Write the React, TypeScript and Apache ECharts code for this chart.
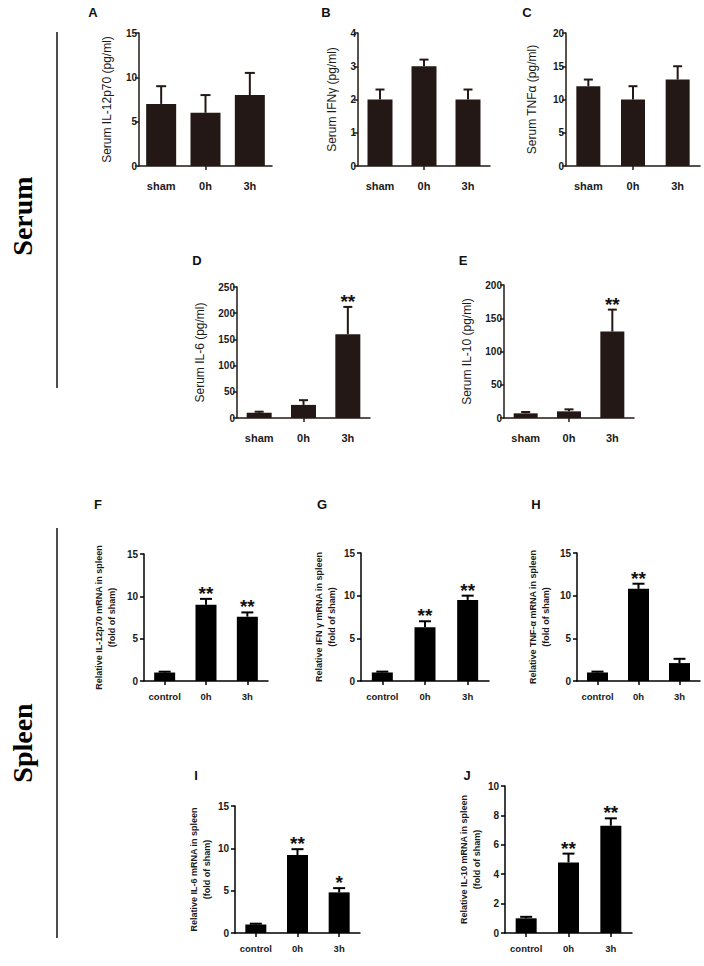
import React, { useEffect, useRef } from "react";
import * as echarts from "echarts";

// ---------- data ----------
const serumCategories = ["sham", "0h", "3h"];
const spleenCategories = ["control", "0h", "3h"];

const serumIL12Mean = [7, 6, 8];
const serumIL12Sem = [2, 2, 2.5];
const serumIFNgMean = [2, 3, 2];
const serumIFNgSem = [0.3, 0.2, 0.3];
const serumTNFaMean = [12, 10, 13];
const serumTNFaSem = [1, 2, 2];
const serumIL6Mean = [10, 25, 160];
const serumIL6Sem = [2, 9, 52];
const serumIL6Stars = ["", "", "**"];
const serumIL10Mean = [7, 10, 130];
const serumIL10Sem = [2, 3, 33];
const serumIL10Stars = ["", "", "**"];

const spleenIL12Mean = [1, 9.0, 7.6];
const spleenIL12Sem = [0.1, 0.7, 0.5];
const spleenIL12Stars = ["", "**", "**"];
const spleenIFNgMean = [1, 6.3, 9.5];
const spleenIFNgSem = [0.1, 0.7, 0.5];
const spleenIFNgStars = ["", "**", "**"];
const spleenTNFaMean = [1, 10.8, 2.1];
const spleenTNFaSem = [0.1, 0.6, 0.5];
const spleenTNFaStars = ["", "**", ""];
const spleenIL6Mean = [1, 9.2, 4.8];
const spleenIL6Sem = [0.1, 0.7, 0.5];
const spleenIL6Stars = ["", "**", "*"];
const spleenIL10Mean = [1, 4.8, 7.3];
const spleenIL10Sem = [0.1, 0.6, 0.5];
const spleenIL10Stars = ["", "**", "**"];

const FONT = "'Liberation Sans', Arial, Helvetica, sans-serif";
const SERIF = "'Liberation Serif', 'Times New Roman', serif";
const SERUM_COLOR = "#231815";
const SPLEEN_COLOR = "#000000";

type Panel = {
  letter: string;
  lx: number;
  ly: number;
  cats: string[];
  mean: number[];
  sem: number[];
  stars: string[];
  title: string;
  serum: boolean;
  left: number;
  top: number;
  width: number;
  height: number;
  max: number;
  interval: number;
  gap: number;
  barW: number;
  capW: number;
};

const none = ["", "", ""];

const panels: Panel[] = [
  { letter: "A", lx: 93, ly: 12, cats: serumCategories, mean: serumIL12Mean, sem: serumIL12Sem, stars: none, title: "Serum IL-12p70 (pg/ml)", serum: true, left: 139, top: 33, width: 133, height: 133, max: 15, interval: 5, gap: 26, barW: 30, capW: 10 },
  { letter: "B", lx: 326, ly: 12, cats: serumCategories, mean: serumIFNgMean, sem: serumIFNgSem, stars: none, title: "Serum IFNγ (pg/ml)", serum: true, left: 358, top: 33, width: 132, height: 133, max: 4, interval: 1, gap: 20, barW: 25, capW: 9 },
  { letter: "C", lx: 527, ly: 12, cats: serumCategories, mean: serumTNFaMean, sem: serumTNFaSem, stars: none, title: "Serum TNFα (pg/ml)", serum: true, left: 566, top: 33, width: 134, height: 133, max: 20, interval: 5, gap: 28, barW: 24, capW: 9 },
  { letter: "D", lx: 197, ly: 260, cats: serumCategories, mean: serumIL6Mean, sem: serumIL6Sem, stars: serumIL6Stars, title: "Serum IL-6 (pg/ml)", serum: true, left: 237, top: 287, width: 133, height: 131, max: 250, interval: 50, gap: 31, barW: 25, capW: 9 },
  { letter: "E", lx: 463, ly: 260, cats: serumCategories, mean: serumIL10Mean, sem: serumIL10Sem, stars: serumIL10Stars, title: "Serum IL-10 (pg/ml)", serum: true, left: 504, top: 285, width: 130, height: 133, max: 200, interval: 50, gap: 31, barW: 24, capW: 9 },
  { letter: "F", lx: 98, ly: 504, cats: spleenCategories, mean: spleenIL12Mean, sem: spleenIL12Sem, stars: spleenIL12Stars, title: "Relative IL-12p70 mRNA in spleen\n(fold of sham)", serum: false, left: 144, top: 554, width: 124, height: 127, max: 15, interval: 5, gap: 26, barW: 21, capW: 12 },
  { letter: "G", lx: 322, ly: 504, cats: spleenCategories, mean: spleenIFNgMean, sem: spleenIFNgSem, stars: spleenIFNgStars, title: "Relative IFN γ mRNA in spleen\n(fold of sham)", serum: false, left: 361, top: 553, width: 128, height: 128, max: 15, interval: 5, gap: 23, barW: 21, capW: 12 },
  { letter: "H", lx: 536, ly: 504, cats: spleenCategories, mean: spleenTNFaMean, sem: spleenTNFaSem, stars: spleenTNFaStars, title: "Relative TNF-α mRNA in spleen\n(fold of sham)", serum: false, left: 577, top: 553, width: 123, height: 128, max: 15, interval: 5, gap: 25, barW: 21, capW: 12 },
  { letter: "I", lx: 196, ly: 775, cats: spleenCategories, mean: spleenIL6Mean, sem: spleenIL6Sem, stars: spleenIL6Stars, title: "Relative IL-6 mRNA in spleen\n(fold of sham)", serum: false, left: 235, top: 806, width: 125, height: 127, max: 15, interval: 5, gap: 20, barW: 21, capW: 12 },
  { letter: "J", lx: 467, ly: 775, cats: spleenCategories, mean: spleenIL10Mean, sem: spleenIL10Sem, stars: spleenIL10Stars, title: "Relative IL-10 mRNA in spleen\n(fold of sham)", serum: false, left: 505, top: 786, width: 127, height: 147, max: 10, interval: 2, gap: 19, barW: 21, capW: 12 },
];

function buildOption() {
  const grid: any[] = [];
  const xAxis: any[] = [];
  const yAxis: any[] = [];
  const series: any[] = [];
  const graphic: any[] = [];

  panels.forEach((p, k) => {
    const color = p.serum ? SERUM_COLOR : SPLEEN_COLOR;
    grid.push({ left: p.left, top: p.top, width: p.width, height: p.height, containLabel: false });
    xAxis.push({
      type: "category",
      gridIndex: k,
      data: p.cats,
      axisLine: { show: true, lineStyle: { color, width: 1.5 } },
      axisTick: {
        show: true,
        alignWithLabel: true,
        length: 4,
        interval: p.serum ? (i: number) => i === 1 : 0,
        lineStyle: { color, width: 1.5 },
      },
      axisLabel: {
        interval: 0,
        color: "#1a1a1a",
        fontFamily: FONT,
        fontWeight: "bold",
        fontSize: p.serum ? 11 : 9.5,
        margin: p.serum ? 14 : 10,
      },
      splitLine: { show: false },
    });
    yAxis.push({
      type: "value",
      gridIndex: k,
      min: 0,
      max: p.max,
      interval: p.interval,
      axisLine: { show: true, lineStyle: { color, width: 1.5 } },
      axisTick: { show: true, length: 4, lineStyle: { color, width: 1.5 } },
      splitLine: { show: false },
      axisLabel: {
        color: "#1a1a1a",
        fontFamily: FONT,
        fontWeight: "bold",
        fontSize: 10,
        margin: p.serum ? 2 : 6,
      },
      name: p.title,
      nameLocation: "middle",
      nameGap: p.gap,
      nameTextStyle: {
        color: "#1a1a1a",
        fontFamily: FONT,
        fontWeight: p.serum ? "normal" : "bold",
        fontSize: p.serum ? 12 : 9,
        lineHeight: 13,
        align: "center",
      },
    });
    series.push({
      type: "bar",
      xAxisIndex: k,
      yAxisIndex: k,
      data: p.mean,
      barWidth: p.barW,
      itemStyle: { color },
      silent: true,
    });
    const stars = p.stars;
    const capW = p.capW;
    series.push({
      type: "custom",
      xAxisIndex: k,
      yAxisIndex: k,
      z: 5,
      encode: { x: 0, y: [1, 2] },
      data: p.mean.map((m, i) => [i, m, m + p.sem[i]]),
      renderItem: (params: any, api: any) => {
        const i = api.value(0);
        const base = api.coord([i, api.value(1)]);
        const top = api.coord([i, api.value(2)]);
        const children: any[] = [
          { type: "line", shape: { x1: base[0], y1: base[1], x2: top[0], y2: top[1] }, style: { stroke: color, lineWidth: 2 } },
          { type: "line", shape: { x1: top[0] - capW / 2, y1: top[1], x2: top[0] + capW / 2, y2: top[1] }, style: { stroke: color, lineWidth: 2 } },
        ];
        const s = stars[params.dataIndex];
        if (s) {
          children.push({
            type: "text",
            x: top[0],
            y: top[1] + 4,
            style: {
              text: s,
              fill: "#111",
              font: `bold 19px ${FONT}`,
              align: "center",
              verticalAlign: "bottom",
            },
          });
        }
        return { type: "group", children };
      },
    });
    graphic.push({
      type: "text",
      x: p.lx,
      y: p.ly,
      style: { text: p.letter, fill: "#111", font: `bold 13px ${FONT}`, align: "center", verticalAlign: "middle" },
    });
  });

  graphic.push(
    { type: "line", shape: { x1: 57, y1: 32, x2: 57, y2: 388 }, style: { stroke: "#111", lineWidth: 1.5 } },
    { type: "line", shape: { x1: 57, y1: 528, x2: 57, y2: 938 }, style: { stroke: "#111", lineWidth: 1.5 } },
    {
      type: "text",
      x: 22,
      y: 216,
      rotation: Math.PI / 2,
      style: { text: "Serum", fill: "#000", font: `bold 28px ${SERIF}`, align: "center", verticalAlign: "middle" },
    },
    {
      type: "text",
      x: 22,
      y: 743,
      rotation: Math.PI / 2,
      style: { text: "Spleen", fill: "#000", font: `bold 28px ${SERIF}`, align: "center", verticalAlign: "middle" },
    }
  );

  return {
    animation: false,
    backgroundColor: "#ffffff",
    grid,
    xAxis,
    yAxis,
    series,
    graphic,
  };
}

export default function App() {
  const ref = useRef<HTMLDivElement | null>(null);
  useEffect(() => {
    document.body.style.margin = "0";
    if (!ref.current) return;
    const chart = echarts.init(ref.current, undefined, { renderer: "svg" });
    chart.setOption(buildOption() as any);
    return () => chart.dispose();
  }, []);
  return <div ref={ref} style={{ width: 704, height: 966 }} />;
}
